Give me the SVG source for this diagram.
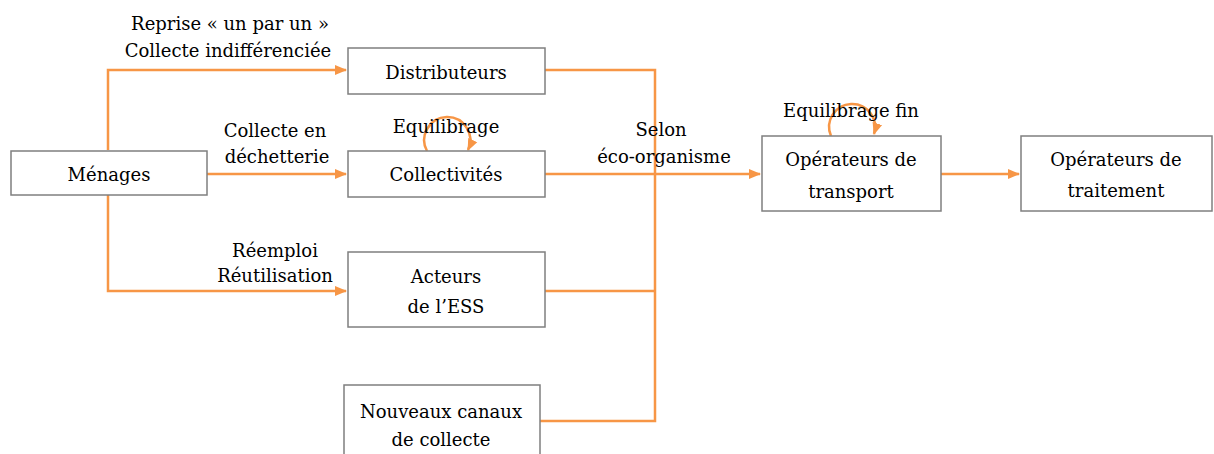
<svg xmlns="http://www.w3.org/2000/svg" width="1214" height="454" viewBox="0 0 1214 454">
<style>
.box{fill:#fff;stroke:#7f7f7f;stroke-width:1.5}
.t{font-family:"DejaVu Serif","Liberation Serif",serif;font-size:18px;fill:#000;text-anchor:middle}
.c{fill:none;stroke:#f79646;stroke-width:2.5}
</style>
<defs>
<marker id="ah" markerWidth="12" markerHeight="12" refX="11" refY="6" orient="auto" markerUnits="userSpaceOnUse" viewBox="0 0 12 12">
<path d="M0,1 L12,6 L0,11 z" fill="#f79646"/>
</marker>
</defs>
<rect width="1214" height="454" fill="#fff"/>
<g id="connectors">
<path class="c" d="M108,150 V70 H346" marker-end="url(#ah)"/>
<path class="c" d="M207,174 H346" marker-end="url(#ah)"/>
<path class="c" d="M108,195 V291 H346" marker-end="url(#ah)"/>
<path class="c" d="M545,70 H655 V421 H540"/>
<path class="c" d="M545,291 H655"/>
<path class="c" d="M545,174 H760" marker-end="url(#ah)"/>
<path class="c" d="M941,174 H1019" marker-end="url(#ah)"/>
<path class="c" d="M427,151 A23,23 0 1 1 468,150" marker-end="url(#ah)"/>
<path class="c" d="M831,136 A23,23 0 1 1 874,134" marker-end="url(#ah)"/>
</g>
<g id="labels">
<text class="t" x="230" y="30">Reprise « un par un »</text>
<text class="t" x="228" y="57">Collecte indifférenciée</text>
<text class="t" x="275" y="137">Collecte en</text>
<text class="t" x="277" y="163">déchetterie</text>
<text class="t" x="275" y="257">Réemploi</text>
<text class="t" x="275" y="282">Réutilisation</text>
<text class="t" x="446" y="133">Equilibrage</text>
<text class="t" x="661" y="136">Selon</text>
<text class="t" x="664" y="163">éco-organisme</text>
<text class="t" x="851" y="117">Equilibrage fin</text>
</g>
<g id="menages"><rect class="box" x="11" y="151" width="196" height="44"/><text class="t" x="109" y="181">Ménages</text></g>
<g id="distributeurs"><rect class="box" x="348" y="48" width="197" height="46"/><text class="t" x="446" y="79">Distributeurs</text></g>
<g id="collectivites"><rect class="box" x="348" y="151" width="197" height="46"/><text class="t" x="446" y="181">Collectivités</text></g>
<g id="ess"><rect class="box" x="348" y="252" width="197" height="75"/><text class="t" x="446" y="283">Acteurs</text><text class="t" x="446" y="313">de l’ESS</text></g>
<g id="nouveaux"><rect class="box" x="344" y="385" width="196" height="75"/><text class="t" x="441" y="418">Nouveaux canaux</text><text class="t" x="441" y="446">de collecte</text></g>
<g id="transport"><rect class="box" x="762" y="136" width="179" height="75"/><text class="t" x="851" y="166">Opérateurs de</text><text class="t" x="851" y="198">transport</text></g>
<g id="traitement"><rect class="box" x="1021" y="136" width="191" height="75"/><text class="t" x="1116" y="166">Opérateurs de</text><text class="t" x="1116" y="197">traitement</text></g>
</svg>
